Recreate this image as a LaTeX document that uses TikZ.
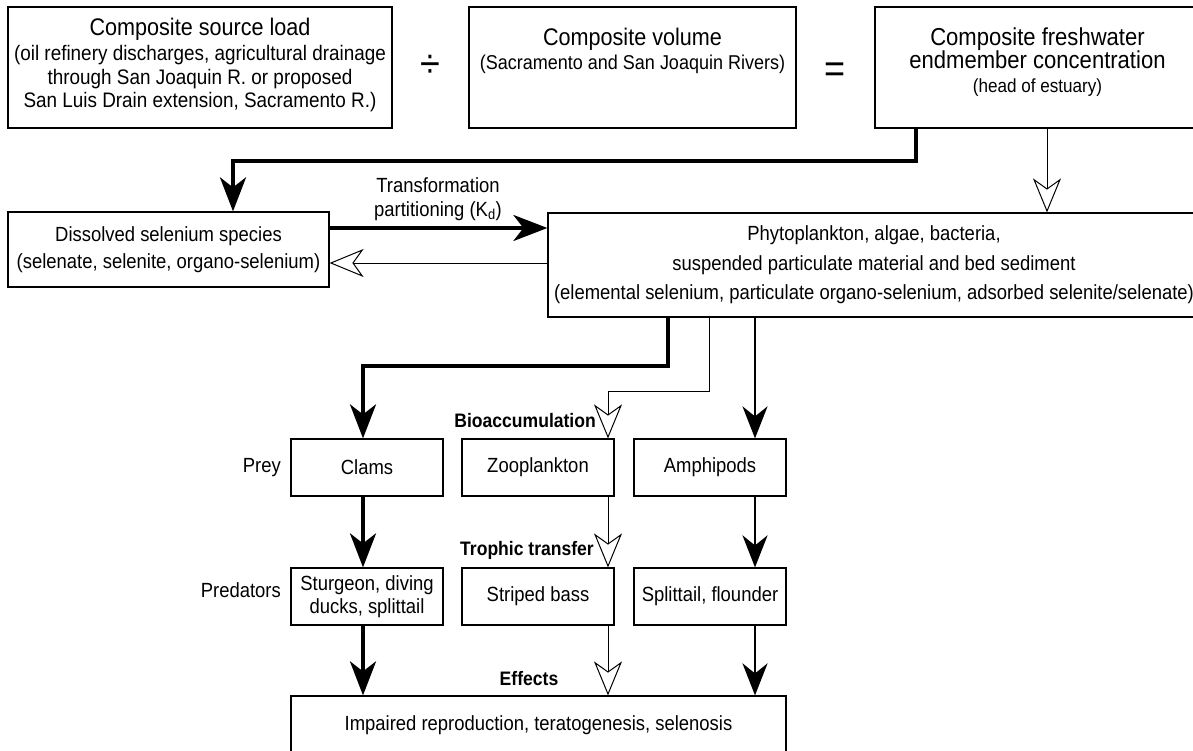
\documentclass[tikz,border=0pt]{standalone}
\usepackage{fontspec}
\setmainfont{Liberation Sans}[FakeStretch=0.9]
\usetikzlibrary{arrows.meta}
\newcommand\myBody{\fontsize{20.5}{23.5}\selectfont}
\newcommand\mySub{\fontsize{21}{23.5}\selectfont}
\newcommand\myVolSub{\fontsize{20}{23.5}\selectfont}
\newcommand\myTitle{\fontsize{24}{25}\selectfont}
\newcommand\myBigTitle{\fontsize{24.5}{25.5}\selectfont}
\newcommand\mySmall{\fontsize{19}{21}\selectfont}
\newcommand\myBold{\fontsize{19.5}{22}\selectfont\bfseries}
\tikzset{
  box/.style={draw, line width=1.2pt, inner sep=0pt, align=center, font=\myBody},
  lbl/.style={inner sep=0pt, align=center, font=\myBody},
  arrHeavy/.style={line width=4pt, line join=miter, -{Stealth[length=34pt,width=26pt,inset=10pt]}},
  arrMed/.style={line width=2.5pt, -{Stealth[length=32pt,width=25pt,inset=10pt]}},
  arrHollow/.style={line width=1pt, line join=miter, -{Stealth[open,fill=white,length=34pt,width=28pt,inset=10pt]}},
}
\begin{document}
\begin{tikzpicture}[x=1pt,y=-1pt]
\useasboundingbox (0,0) rectangle (1193,751);
\clip (0,0) rectangle (1193,751);
% top row
\node[box, font=\mySub, minimum width=384pt, minimum height=121pt] (src) at (200,67.5)
  {{\myTitle Composite source load}\\[2pt]
   (oil refinery discharges, agricultural drainage\\
   through San Joaquin R. or proposed\\
   San Luis Drain extension, Sacramento R.)\\[-14pt]\mbox{}};
\node[lbl, font=\fontsize{40}{40}\selectfont] (div) at (430,66) {÷};
\node[box, font=\myVolSub, minimum width=327pt, minimum height=121pt] (vol) at (632.5,67.5)
  {{\myTitle Composite volume}\\[1pt]
   (Sacramento and San Joaquin Rivers)\\[14pt]\mbox{}};
\node[lbl, font=\fontsize{40}{40}\selectfont] (eq) at (835,73) {=};
\node[box, minimum width=325pt, minimum height=121pt] (fresh) at (1037.5,67.5)
  {{\myBigTitle Composite freshwater}\\
   {\myBigTitle endmember concentration}\\[0pt]
   {\mySmall (head of estuary)}\\[-8pt]\mbox{}};
% second row
\node[box, minimum width=321pt, minimum height=75pt] (diss) at (168.5,249.5)
  {Dissolved selenium species\\[4pt]
   (selenate, selenite, organo-selenium)};
\node[box, minimum width=652pt, minimum height=104pt] (phyto) at (874,265)
  {Phytoplankton, algae, bacteria,\\[6pt]
   suspended particulate material and bed sediment\\[6pt]
   (elemental selenium, particulate organo-selenium, adsorbed selenite/selenate)};
\node[lbl] (trans) at (438,199) {Transformation\\partitioning (K\textsubscript{d})};
% prey row
\node[box, minimum width=152pt, minimum height=57pt] (clams) at (367,467.5) {Clams};
\node[box, minimum width=152pt, minimum height=57pt] (zoo) at (538,467.5) {Zooplankton};
\node[box, minimum width=152pt, minimum height=57pt] (amph) at (710,467.5) {Amphipods};
\node[lbl, anchor=east] (prey) at (281,468) {Prey};
\node[lbl, anchor=east, font=\myBold] (bioacc) at (596,421) {Bioaccumulation};
% predator row
\node[box, minimum width=152pt, minimum height=57pt] (sturg) at (367,596.5) {Sturgeon, diving\\ducks, splittail};
\node[box, minimum width=152pt, minimum height=57pt] (bass) at (538,596.5) {Striped bass};
\node[box, minimum width=152pt, minimum height=57pt] (split) at (710,596.5) {Splittail, flounder};
\node[lbl, anchor=east] (pred) at (281,590) {Predators};
\node[lbl, anchor=east, font=\myBold] (troph) at (594,550) {Trophic transfer};
% effects
\node[box, minimum width=495pt, minimum height=58pt] (eff) at (538.5,725) {Impaired reproduction, teratogenesis, selenosis};
\node[lbl, font=\myBold] (efflbl) at (529,679) {Effects};
% helper coordinates
\coordinate (xA) at (916,0);
\coordinate (xB) at (1047,0);
\coordinate (jA) at (233,161);
\coordinate (yA) at (0,228);
\coordinate (yB) at (0,263);
\coordinate (xC) at (668,0);
\coordinate (jB) at (363,366);
\coordinate (xD) at (709,0);
\coordinate (jC) at (608,391);
\coordinate (xE) at (755,0);
% connectors
\draw[arrHeavy] (fresh.south -| xA) |- (jA) -- (diss.north -| jA);
\draw[arrHollow] (fresh.south -| xB) -- (phyto.north -| xB);
\draw[arrHeavy] (diss.east |- yA) -- (phyto.west |- yA);
\draw[arrHollow] (phyto.west |- yB) -- (diss.east |- yB);
\draw[arrHeavy] (phyto.south -| xC) |- (jB) -- (clams.north -| jB);
\draw[arrHollow] (phyto.south -| xD) |- (jC) -- (zoo.north -| jC);
\draw[arrMed] (phyto.south -| xE) -- (amph.north -| xE);
\draw[arrHeavy] (clams.south -| jB) -- (sturg.north -| jB);
\draw[arrHollow] (zoo.south -| jC) -- (bass.north -| jC);
\draw[arrMed] (amph.south -| xE) -- (split.north -| xE);
\draw[arrHeavy] (sturg.south -| jB) -- (eff.north -| jB);
\draw[arrHollow] (bass.south -| jC) -- (eff.north -| jC);
\draw[arrMed] (split.south -| xE) -- (eff.north -| xE);
\end{tikzpicture}
\end{document}
